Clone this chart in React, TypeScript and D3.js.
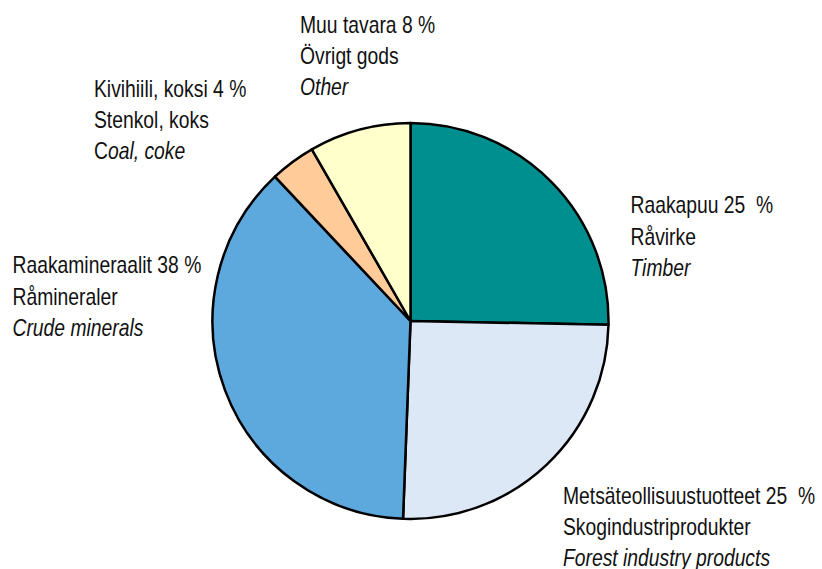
import * as d3 from "d3";

// slices clockwise from 12 o'clock
const categories = ["raakapuu", "metsa", "mineraalit", "kivihiili", "muu"];
const shares = [25.3, 25.3, 37.4, 3.7, 8.3];
const colors = ["#008f8f", "#dce8f6", "#5da8dd", "#ffcc99", "#ffffcc"];
const labelFi = [
  "Raakapuu 25  %",
  "Metsäteollisuustuotteet 25  %",
  "Raakamineraalit 38 %",
  "Kivihiili, koksi 4 %",
  "Muu tavara 8 %",
];
const labelSv = ["Råvirke", "Skogindustriprodukter", "Råmineraler", "Stenkol, koks", "Övrigt gods"];
const labelEn = ["Timber", "Forest industry products", "Crude minerals", "oal, coke", "Other"];
// left edge and first baseline of each label block
const labelPos: [number, number][] = [
  [630.5, 213.5],
  [563, 504],
  [12.5, 273.5],
  [94, 97],
  [300, 33],
];

const WIDTH = 822;
const HEIGHT = 569;
const CX = 410.5;
const CY = 321;
const RADIUS = 198;
const LINE = 31.2;
const SQUEEZE = 0.84; // no narrow font installed, so condense the sans horizontally

export default function App() {
  const pie = d3
    .pie<number>()
    .value((d) => d)
    .sort(null);
  const arcs = pie(shares);
  const arc = d3.arc<d3.PieArcDatum<number>>().innerRadius(0).outerRadius(RADIUS);

  return (
    <svg
      width={WIDTH}
      height={HEIGHT}
      style={{ position: "absolute", left: 0, top: 0, background: "#fff" }}
      fontFamily="'Liberation Sans', Arial, sans-serif"
      fontSize={23}
    >
      <g transform={`translate(${CX},${CY})`}>
        {arcs.map((a, i) => (
          <path
            key={categories[i]}
            d={arc(a) || ""}
            fill={colors[i]}
            stroke="#000"
            strokeWidth={2.5}
            strokeLinejoin="round"
          />
        ))}
      </g>
      {categories.map((c, i) => {
        const [x, y] = labelPos[i];
        return (
          <text
            key={c}
            transform={`translate(${x},0) scale(${SQUEEZE},1)`}
            fill="#111"
            style={{ whiteSpace: "pre" }}
          >
            <tspan x={0} y={y}>{labelFi[i]}</tspan>
            <tspan x={0} y={y + LINE}>{labelSv[i]}</tspan>
            <tspan x={0} y={y + LINE * 2} fontStyle="italic">
              {c === "kivihiili" ? (
                <>
                  <tspan fontStyle="normal">C</tspan>
                  {labelEn[i]}
                </>
              ) : (
                labelEn[i]
              )}
            </tspan>
          </text>
        );
      })}
    </svg>
  );
}
